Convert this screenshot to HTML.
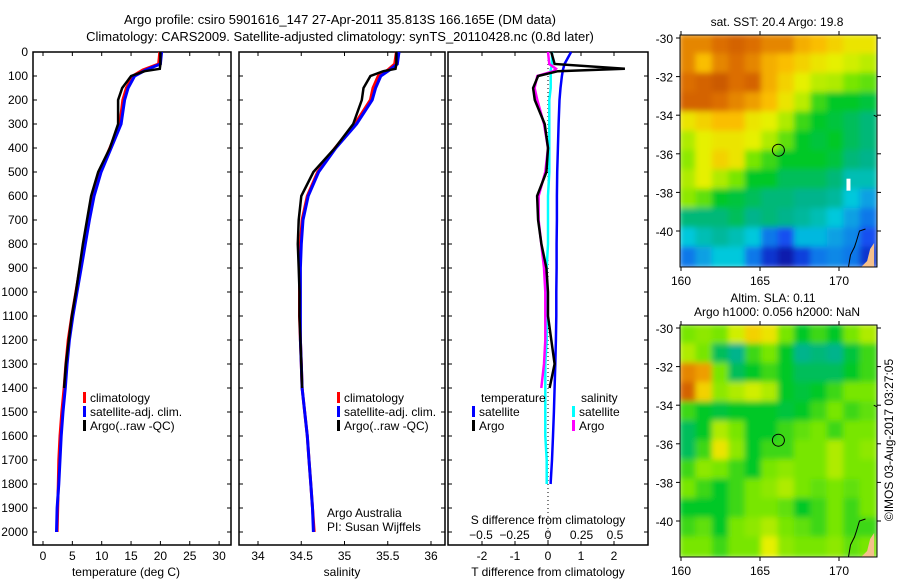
<!DOCTYPE html>
<html><head><meta charset="utf-8"><style>
body{margin:0;background:#fff}
svg{display:block;font-family:"Liberation Sans",sans-serif;font-size:12px}
</style></head><body>
<svg id="c" width="900" height="580" viewBox="0 0 900 580">
<defs>
<filter id="bl" x="0" y="0" width="1" height="1"><feGaussianBlur stdDeviation="3"/></filter>
<clipPath id="m1c"><rect x="680" y="35" width="197" height="232"/></clipPath>
<clipPath id="m2c"><rect x="680" y="325" width="197" height="232"/></clipPath>
</defs>
<text x="340" y="24" text-anchor="middle" font-size="13">Argo profile: csiro 5901616_147 27-Apr-2011 35.813S 166.165E (DM data)</text>
<text x="340" y="41" text-anchor="middle" font-size="13">Climatology: CARS2009. Satellite-adjusted climatology: synTS_20110428.nc (0.8d later)</text>
<g id="g"></g>
</svg>
<script>
const depths=[0,50,75,100,150,200,300,400,500,600,700,800,900,1000,1100,1200,1300,1400,1500,1600,1700,1800,1900,2000];
const tClim=[19.9,19.7,17.0,15.3,14.2,13.6,13.1,11.4,9.7,8.5,7.7,7.0,6.3,5.6,4.9,4.3,3.9,3.6,3.2,2.9,2.7,2.6,2.5,2.4];
const tSat=[20.2,20.0,17.5,15.6,14.5,13.9,13.3,11.6,9.9,8.7,7.9,7.2,6.5,5.8,5.1,4.5,4.1,3.8,3.4,3.1,2.9,2.7,2.4,2.3];
const argoDepths=[0,50,70,80,100,150,200,300,400,500,600,700,800,900,1000,1100,1200,1300,1400];
const tArgo=[20.0,20.0,19.9,17.3,15.0,13.5,12.8,12.8,11.4,9.4,8.2,7.5,6.8,6.2,5.6,4.9,4.4,3.9,3.6];
const sClim=[35.60,35.58,35.50,35.39,35.33,35.30,35.12,34.89,34.69,34.57,34.51,34.49,34.48,34.48,34.48,34.49,34.50,34.51,34.54,34.57,34.59,34.61,34.63,34.65];
const sSat=[35.63,35.61,35.52,35.42,35.36,35.32,35.14,34.90,34.70,34.58,34.52,34.50,34.49,34.49,34.49,34.49,34.50,34.51,34.54,34.57,34.59,34.61,34.63,34.64];
const sArgo=[35.60,35.60,35.59,35.45,35.30,35.22,35.20,35.10,34.89,34.64,34.50,34.47,34.46,34.47,34.48,34.48,34.49,34.50,34.51];
const dtSat=[0.7,0.5,0.45,0.42,0.38,0.35,0.32,0.3,0.28,0.27,0.27,0.26,0.26,0.25,0.25,0.24,0.22,0.2,0.18,0.15,0.12,0.08,0.06,0.05];
const dtArgo=[0.1,0.2,2.33,0.3,-0.3,-0.45,-0.4,-0.1,0,-0.05,-0.33,-0.3,-0.2,-0.05,0,0,0.1,0.2,0.05];
const dsSat=[0.03,0.03,0.02,0.02,0.02,0.01,0.01,0.01,0.01,0.0,0.0,0.0,-0.01,-0.01,-0.01,-0.01,-0.02,-0.02,-0.02,-0.02,-0.01,-0.01,-0.01,-0.01];
const dsArgo=[0,0.01,0.06,0.04,-0.08,-0.1,-0.08,-0.03,0,-0.02,-0.07,-0.07,-0.05,-0.03,-0.02,-0.02,-0.02,-0.03,-0.05];
const depthTicks=[0,100,200,300,400,500,600,700,800,900,1000,1100,1200,1300,1400,1500,1600,1700,1800,1900,2000];
const tTicks=[0,5,10,15,20,25,30];
const sTicks=[34,34.5,35,35.5,36];
const dtTicks=[-2,-1,0,1,2];
const dsTicks=[-0.5,-0.25,0,0.25,0.5];
const lonTicks=[160,165,170];
const latTicks=[-30,-32,-34,-36,-38,-40];
const sstGrid=[
[.85,.85,.88,.9,.88,.85,.85,.8,.78,.75,.72,.72],
[.85,.78,.85,.88,.85,.8,.78,.75,.72,.7,.68,.66],
[.88,.9,.92,.88,.9,.8,.75,.7,.66,.65,.6,.58],
[.9,.9,.88,.85,.82,.78,.72,.66,.55,.5,.5,.48],
[.72,.75,.78,.78,.72,.7,.65,.55,.5,.48,.45,.42],
[.65,.7,.72,.72,.7,.65,.58,.5,.48,.5,.45,.42],
[.62,.7,.75,.72,.6,.55,.5,.5,.5,.48,.42,.4],
[.65,.7,.65,.6,.5,.5,.45,.45,.45,.42,.35,.35],
[.62,.58,.5,.48,.45,.42,.42,.4,.4,.38,.3,.25],
[.42,.42,.42,.45,.4,.42,.4,.38,.35,.3,.25,.2],
[.3,.35,.38,.35,.3,.2,.15,.28,.28,.25,.22,.15],
[.2,.25,.3,.3,.2,.1,.05,.12,.2,.22,.2,.1]];
const slaGrid=[
[.6,.62,.6,.68,.75,.72,.6,.5,.55,.5,.6,.65],
[.65,.6,.45,.4,.55,.6,.5,.4,.42,.4,.48,.55],
[.85,.82,.6,.45,.5,.55,.5,.45,.45,.45,.5,.55],
[.9,.75,.62,.65,.68,.65,.5,.48,.5,.55,.6,.6],
[.55,.5,.48,.5,.5,.5,.48,.5,.55,.6,.55,.58],
[.45,.5,.65,.6,.5,.5,.55,.58,.6,.55,.6,.6],
[.45,.55,.72,.62,.5,.55,.55,.6,.6,.65,.6,.62],
[.55,.62,.6,.55,.5,.6,.62,.6,.6,.65,.6,.6],
[.6,.55,.5,.55,.6,.62,.65,.6,.58,.6,.58,.6],
[.5,.5,.5,.55,.6,.6,.58,.5,.55,.6,.55,.6],
[.55,.58,.5,.6,.62,.65,.6,.58,.55,.6,.55,.55],
[.6,.6,.55,.6,.6,.7,.62,.6,.6,.62,.58,.6]];
const argoLon=166.165, argoLat=-35.813;

const NS='http://www.w3.org/2000/svg', G=document.getElementById('g');
function mk(tag,at,txt,parent){const e=document.createElementNS(NS,tag);for(const k in at)e.setAttribute(k,at[k]);if(txt!=null)e.textContent=txt;(parent||G).appendChild(e);return e;}
const yD=d=>52+d*0.24;
const xT=t=>43+t*5.87;
const xS=s=>258+(s-34)*86.5;
const xDT=t=>548+t*33;
const xDS=s=>548+s*134;
function line(xs,ds,fx,col,w,name){
  const pts=xs.map((v,i)=>fx(v).toFixed(1)+','+yD(ds[i]).toFixed(1)).join(' ');
  const e=mk('polyline',{points:pts,fill:'none',stroke:col,'stroke-width':w});
  
  
}
function panel(x0,x1,name){
  const r=mk('rect',{x:x0,y:52,width:x1-x0,height:493,fill:'none',stroke:'#000','stroke-width':1.5});
  
  
  depthTicks.forEach(d=>{mk('line',{x1:x0,x2:x0+4,y1:yD(d),y2:yD(d),stroke:'#000'});mk('line',{x1:x1,x2:x1-4,y1:yD(d),y2:yD(d),stroke:'#000'});});
}
panel(33,231,'temperature-panel');panel(239,445,'salinity-panel');panel(448,648,'difference-panel');
depthTicks.forEach(d=>{const e=mk('text',{x:28,y:yD(d)+4,'text-anchor':'end'},d);
 
 });
tTicks.forEach(t=>{mk('line',{x1:xT(t),x2:xT(t),y1:545,y2:541,stroke:'#000'});mk('line',{x1:xT(t),x2:xT(t),y1:52,y2:56,stroke:'#000'});
 const e=mk('text',{x:xT(t),y:560,'text-anchor':'middle'},t);
 
 });
sTicks.forEach(s=>{mk('line',{x1:xS(s),x2:xS(s),y1:545,y2:541,stroke:'#000'});mk('line',{x1:xS(s),x2:xS(s),y1:52,y2:56,stroke:'#000'});
 const e=mk('text',{x:xS(s),y:560,'text-anchor':'middle'},s);
 
 });
dtTicks.forEach(t=>{mk('line',{x1:xDT(t),x2:xDT(t),y1:545,y2:541,stroke:'#000'});mk('line',{x1:xDT(t),x2:xDT(t),y1:52,y2:56,stroke:'#000'});
 const e=mk('text',{x:xDT(t),y:560,'text-anchor':'middle'},t);
 
 });
dsTicks.forEach(s=>{const e=mk('text',{x:xDS(s),y:539,'text-anchor':'middle'},s===0?'0':String(s).replace('-','\u2212'));
 
 });
[['temperature (deg C)',126,'temp-axis-title'],['salinity',342,'salinity-axis-title'],['T difference from climatology',548,'tdiff-axis-title']].forEach(a=>{
 const e=mk('text',{x:a[1],y:576,'text-anchor':'middle'},a[0]);
 
 });
{const e=mk('text',{x:548,y:524,'text-anchor':'middle'},'S difference from climatology');
 
 }
mk('line',{x1:548,x2:548,y1:56,y2:545,stroke:'#000','stroke-dasharray':'1 3'});
line(tClim,depths,xT,'#f00',3,'temp-climatology-line');
line(tSat,depths,xT,'#00f',3,'temp-satellite-line');
line(tArgo,argoDepths,xT,'#000',2.5,'temp-argo-line');
line(sClim,depths,xS,'#f00',3,'sal-climatology-line');
line(sSat,depths,xS,'#00f',3,'sal-satellite-line');
line(sArgo,argoDepths,xS,'#000',2.5,'sal-argo-line');
line(dtSat,depths.slice(0,22),xDT,'#00f',2.5,'tdiff-satellite-line');
line(dsSat,depths.slice(0,22),xDS,'#0ff',2.5,'sdiff-satellite-line');
line(dsArgo,argoDepths,xDS,'#f0f',2.5,'sdiff-argo-line');
line(dtArgo,argoDepths,xDT,'#000',2.5,'tdiff-argo-line');
function leg(x,y,col,txt,name){mk('rect',{x:x,y:y-10,width:3,height:11,fill:col});
 const e=mk('text',{x:x+7,y:y},txt);
 
 }
leg(83,402,'#f00','climatology','legend-climatology');leg(83,416,'#00f','satellite-adj. clim.','legend-satellite');leg(83,430,'#000','Argo(..raw -QC)','legend-argo');
leg(337,402,'#f00','climatology','legend-climatology-2');leg(337,416,'#00f','satellite-adj. clim.','legend-satellite-2');leg(337,430,'#000','Argo(..raw -QC)','legend-argo-2');
mk('text',{x:481,y:402},'temperature');mk('text',{x:581,y:402},'salinity');
leg(472,416,'#00f','satellite','legend-t-satellite');leg(472,430,'#000','Argo','legend-t-argo');
leg(572,416,'#0ff','satellite','legend-s-satellite');leg(572,430,'#f0f','Argo','legend-s-argo');
mk('text',{x:327,y:517},'Argo Australia');mk('text',{x:327,y:531},'PI: Susan Wijffels');
const stops=[[0,[0,0,140]],[.15,[20,80,240]],[.3,[0,200,220]],[.4,[0,180,140]],[.5,[0,200,40]],[.6,[120,230,0]],[.7,[230,240,0]],[.78,[250,190,0]],[.88,[220,110,0]],[1,[170,50,0]]];
function cmap(v){for(let i=1;i<stops.length;i++){if(v<=stops[i][0]){const a=stops[i-1],b=stops[i],f=(v-a[0])/(b[0]-a[0]);return 'rgb('+a[1].map((c,k)=>Math.round(c+(b[1][k]-c)*f)).join(',')+')';}}return 'rgb(170,50,0)';}
const mLon=l=>681+(l-160)*15.8;
function map(grid,y0,clip,name){
 const yL=la=>y0+3+(-30-la)*19.3;
 const g=mk('g',{'clip-path':'url(#'+clip+')'});
 
 
 const inner=mk('g',{filter:'url(#bl)'},null,g);
 const cw=197/grid[0].length,ch=232/grid.length;
 grid.forEach((row,r)=>row.forEach((v,c)=>{const e=mk('rect',{x:680+c*cw-1,y:y0+r*ch-1,width:cw+2,height:ch+2,fill:cmap(v)},null,inner);
  
  }));
 mk('path',{d:`M${mLon(172.2)},${yL(-34)} l4,2 l3,-1 l2,1 l-3,4 l-2,5 M${mLon(170.6)},${y0+232} l2,-12 l4,-8 l2,-6 l3,-10 l6,-2`,fill:'none',stroke:'#000'},null,g);
 mk('path',{d:`M${mLon(171.4)},${y0+232} l6,-6 l3,-12 l4,-6 v24 z`,fill:'#f4c08c'},null,g);
 mk('rect',{x:680,y:y0,width:197,height:232,fill:'none',stroke:'#000'});
 const cc=mk('circle',{cx:mLon(argoLon),cy:yL(argoLat),r:6,fill:'none',stroke:'#000'});
 
 
 latTicks.forEach(la=>{mk('line',{x1:676,x2:680,y1:yL(la),y2:yL(la),stroke:'#000'});mk('line',{x1:877,x2:881,y1:yL(la),y2:yL(la),stroke:'#000'});
  const e=mk('text',{x:673,y:yL(la)+5,'text-anchor':'end'},la);
  
  });
 lonTicks.forEach(lo=>{mk('line',{x1:mLon(lo),x2:mLon(lo),y1:y0,y2:y0-4,stroke:'#000'});mk('line',{x1:mLon(lo),x2:mLon(lo),y1:y0+232,y2:y0+236,stroke:'#000'});
  const e=mk('text',{x:mLon(lo),y:y0+250,'text-anchor':'middle'},lo);
  
  });
 return yL;
}
const yL1=map(sstGrid,35,'m1c','sst-map');
mk('rect',{x:mLon(170.6)-2,y:yL1(-37.6)-6,width:4,height:12,fill:'#fff'});
map(slaGrid,325,'m2c','sla-map');
mk('text',{x:777,y:26,'text-anchor':'middle'},'sat. SST: 20.4 Argo: 19.8');
mk('text',{x:773,y:302,'text-anchor':'middle'},'Altim. SLA: 0.11');
mk('text',{x:777,y:316,'text-anchor':'middle'},'Argo h1000: 0.056 h2000: NaN');
mk('text',{x:0,y:0,'text-anchor':'middle',transform:'translate(893,440) rotate(-90)'},'\u00a9IMOS 03-Aug-2017 03:27:05');
</script>
</body></html>
